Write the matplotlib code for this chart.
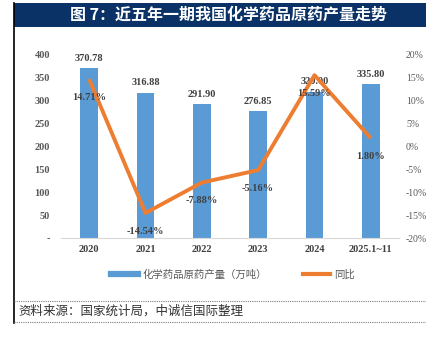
import matplotlib
matplotlib.use("Agg")
import matplotlib.pyplot as plt
from matplotlib.lines import Line2D
from matplotlib.patches import Rectangle
import numpy as np

plt.rcParams['font.family'] = ['Noto Sans CJK SC', 'DejaVu Sans']

categories = ["2020", "2021", "2022", "2023", "2024", "2025.1~11"]
output_wt = [370.78, 316.88, 291.90, 276.85, 320.00, 335.80]
yoy_pct = [14.71, -14.54, -7.88, -5.16, 15.59, 1.80]
left_ticks = [0, 50, 100, 150, 200, 250, 300, 350, 400]
right_ticks = [-20, -15, -10, -5, 0, 5, 10, 15, 20]

title = "图 7：近五年一期我国化学药品原药产量走势"
source = "资料来源：国家统计局，中诚信国际整理"
bar_name = "化学药品原药产量（万吨）"
line_name = "同比"

BLUE = "#5B9BD5"
ORANGE = "#ED7D31"
GREY = "#595959"
W, H = 427, 340

fig = plt.figure(figsize=(W / 100, H / 100), dpi=100)

def fx(px):
    return px / W

def fy(py):
    return 1 - py / H

# title band
fig.patches.append(Rectangle((fx(14), fy(27)), fx(W - 14), (27 - 3) / H,
                             transform=fig.transFigure, facecolor="#0B3266",
                             edgecolor="none", zorder=0))
fig.text(fx(229), fy(15), title, color="white", fontsize=11.5, fontweight="bold",
         ha="center", va="center")

# left frame line
fig.add_artist(Line2D([fx(14), fx(14)], [fy(3), fy(323)], transform=fig.transFigure,
                      color="black", lw=1.2))
# source box dotted rules
for yy in (301, 322):
    fig.add_artist(Line2D([fx(14), 1], [fy(yy), fy(yy)], transform=fig.transFigure,
                          color="#7F7F7F", lw=0.8, linestyle=(0, (1, 1))))
fig.text(fx(18), fy(311.5), source, fontsize=9, style="italic", color="#333333",
         ha="left", va="center")

serif = dict(family="Liberation Serif", fontweight="bold")

ax = fig.add_axes([fx(61), fy(238), fx(399 - 61), (238 - 55) / H])
x = np.arange(len(categories))
ax.bar(x, output_wt, width=0.31, color=BLUE, zorder=2)
ax.set_xlim(-0.5, len(categories) - 0.5)
ax.set_ylim(0, 400)
ax.set_yticks(left_ticks)
ax.set_yticklabels(["-" if v == 0 else str(v) for v in left_ticks],
                   color=GREY, fontsize=7.5, **serif)
ax.set_xticks(x)
ax.set_xticklabels(categories, color="#404040", fontsize=7.5, **serif)
ax.tick_params(length=0, pad=8)
ax.tick_params(axis="x", pad=5)
for s in ("top", "right", "left"):
    ax.spines[s].set_visible(False)
ax.spines["bottom"].set_color("#D9D9D9")
for xi, v in zip(x, output_wt):
    ax.annotate(f"{v:.2f}", (xi, v), xytext=(0, 4), textcoords="offset points",
                ha="center", va="bottom", fontsize=7.5, color="#404040", **serif)

ax2 = ax.twinx()
ax2.plot(x, yoy_pct, color=ORANGE, lw=2.8, zorder=3, solid_capstyle="butt")
ax2.set_ylim(-20, 20)
ax2.set_yticks(right_ticks)
ax2.set_yticklabels([f"{v}%" for v in right_ticks], color=GREY, fontsize=7,
                    family="Liberation Serif")
ax2.tick_params(length=0, pad=5)
for s in ("top", "right", "left", "bottom"):
    ax2.spines[s].set_visible(False)
for xi, v in zip(x, yoy_pct):
    ax2.annotate(f"{v:.2f}%", (xi, v), xytext=(0, -13), textcoords="offset points",
                 ha="center", va="center", fontsize=7.5, color="#404040", **serif)

handles = [Line2D([], [], color=BLUE, lw=4.5), Line2D([], [], color=ORANGE, lw=3)]
fig.legend(handles, [bar_name, line_name], loc="center", ncol=2,
           bbox_to_anchor=(fx(233), fy(275)), frameon=False, fontsize=7.5,
           labelcolor=GREY, handlelength=2.6, handletextpad=0.4, columnspacing=3.5)

fig.savefig("out.png", dpi=100)
